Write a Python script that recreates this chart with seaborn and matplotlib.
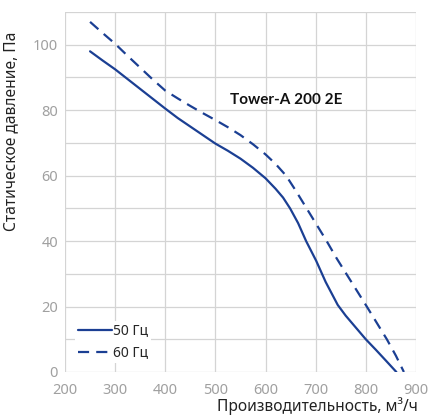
import numpy as np
import pandas as pd
import matplotlib
matplotlib.use("Agg")
import matplotlib.pyplot as plt
import seaborn as sns

# curve points
flow_50 = [250, 275, 300, 325, 350, 375, 400, 425, 450, 475, 500, 525, 550, 575,
           600, 620, 635, 649, 665, 681, 701, 720, 744, 760, 780, 800, 820, 840, 861]
press_50 = [98, 95.2, 92.5, 89.5, 86.5, 83.5, 80.5, 77.6, 75, 72.4, 69.8, 67.6, 65.2, 62.4,
            59.2, 56, 53.3, 50, 45.5, 40, 34, 27.5, 20.5, 17.2, 13.6, 10, 6.8, 3.5, 0]
flow_60 = [250, 275, 300, 325, 350, 375, 400, 425, 450, 475, 500, 525, 550, 575,
           600, 620, 641, 660, 682, 702, 722, 742, 762, 782, 802, 822, 842, 860, 876]
press_60 = [107, 103.6, 100.3, 96.6, 93, 89.4, 86, 83.6, 81.3, 79.1, 77, 74.8, 72.4, 69.6,
            66.5, 63.6, 60, 55.5, 50, 45, 40, 34.7, 29.8, 24.9, 20, 15, 10, 5, 0]
labels = ["50 Гц", "60 Гц"]

df = pd.concat([
    pd.DataFrame({"flow": flow_50, "press": press_50, "curve": labels[0]}),
    pd.DataFrame({"flow": flow_60, "press": press_60, "curve": labels[1]}),
])

sns.set_style("white")
plt.rcParams['font.family'] = ["Noto Sans", "DejaVu Sans"]

fig = plt.figure(figsize=(4.29, 4.2), dpi=100)
ax = fig.add_axes([0.1515, 0.1143, 0.818, 0.857])

line_color = "#1b3f93"
sns.lineplot(data=df, x="flow", y="press", hue="curve", style="curve",
             palette=[line_color, line_color],
             dashes={labels[0]: "", labels[1]: (5, 3.2)},
             linewidth=1.6, sort=False, ax=ax)

ax.set_xlim(200, 900)
ax.set_ylim(0, 110)
ax.set_xticks(np.arange(200, 901, 100))
ax.set_yticks(np.arange(0, 101, 20))
ax.set_yticks(np.arange(0, 111, 10), minor=True)
ax.grid(True, which="both", color="#d4d4d4", linewidth=0.9)
for s in ax.spines.values():
    s.set_visible(False)
ax.tick_params(axis="both", which="major", colors="#a0a0a0", labelsize=10.5,
               length=3, width=0.8, pad=2)
ax.tick_params(axis="y", which="minor", length=0)
ax.tick_params(axis="x", length=0, pad=8)

ax.set_xlabel("Производительность, м³/ч", fontsize=11.2, color="#222222", ha="right")
ax.set_ylabel("Статическое давление, Па", fontsize=11.2, color="#222222")
ax.xaxis.set_label_coords(1.005, -0.07)
ax.yaxis.set_label_coords(-0.13, 0.67)

ax.text(530, 83, "Tower-A 200 2E", fontsize=11, fontweight="bold",
        family=["Lato", "DejaVu Sans"], color="#111111", va="center", ha="left")

leg = ax.legend(loc="lower left", bbox_to_anchor=(0.01, 0.005), frameon=True,
                fontsize=10, handlelength=2.4, handletextpad=0.1,
                borderpad=0.2, labelspacing=0.5, title=None)
leg.get_frame().set_edgecolor("none")
leg.get_frame().set_facecolor("white")
leg.get_frame().set_alpha(1)

fig.savefig("out.png", dpi=100)
